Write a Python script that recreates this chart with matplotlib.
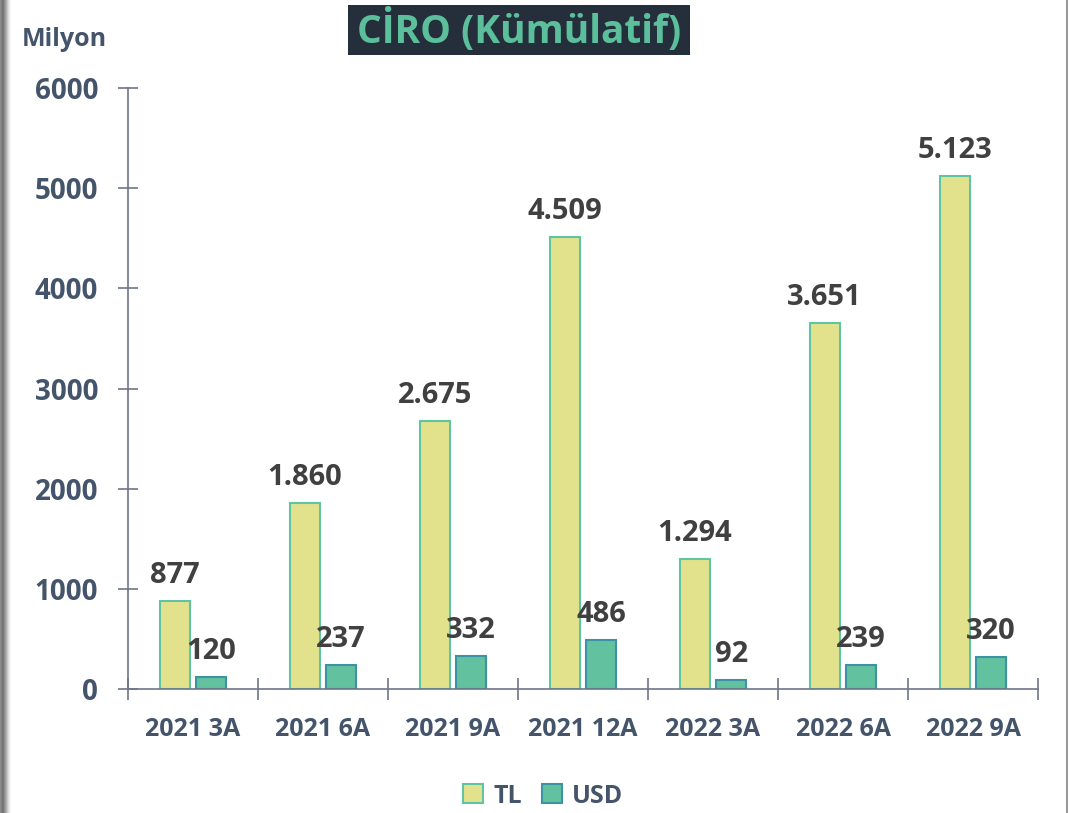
import matplotlib
matplotlib.use("Agg")
import matplotlib.pyplot as plt
import numpy as np
from matplotlib.patches import Rectangle
from matplotlib.lines import Line2D

categories = ["2021 3A", "2021 6A", "2021 9A", "2021 12A", "2022 3A", "2022 6A", "2022 9A"]
tl_values = [877, 1860, 2675, 4509, 1294, 3651, 5123]
usd_values = [120, 237, 332, 486, 92, 239, 320]
series_names = ["TL", "USD"]
y_ticks = [0, 1000, 2000, 3000, 4000, 5000, 6000]
title = "CİRO (Kümülatif)"
unit_label = "Milyon"

def fmt(v):
    return f"{v:,}".replace(",", ".")

plt.rcParams['font.family'] = ['Open Sans', 'DejaVu Sans']

W, H = 1069, 813
fig = plt.figure(figsize=(W / 100, H / 100), dpi=100)
fig.patch.set_facecolor("white")

ax = fig.add_axes([128 / W, 1 - 689 / H, (1038 - 128) / W, (689 - 88) / H])

tl_face, tl_edge = "#E3E28C", "#5FC4A2"
usd_face, usd_edge = "#62C2A0", "#3D93A3"
label_col = "#404040"
axis_text = "#44546A"
spine_col = "#6E7687"

x = np.arange(len(categories)) + 0.5
off, w = 0.14, 0.23
b1 = ax.bar(x - off, tl_values, w, color=tl_face, edgecolor=tl_edge, linewidth=1.5, label=series_names[0])
b2 = ax.bar(x + off, usd_values, w, color=usd_face, edgecolor=usd_edge, linewidth=1.5, label=series_names[1])

for xi, v in zip(x - off, tl_values):
    ax.annotate(fmt(v), (xi, v), xytext=(0, 8), textcoords="offset points",
                ha="center", va="bottom", fontsize=21, fontweight="bold", color=label_col)
for xi, v in zip(x + off, usd_values):
    ax.annotate(fmt(v), (xi, v), xytext=(0, 8), textcoords="offset points",
                ha="center", va="bottom", fontsize=21, fontweight="bold", color=label_col)

ax.set_xlim(0, len(categories))
ax.set_ylim(0, 6000)
ax.set_yticks(y_ticks)
ax.set_yticklabels([str(t) for t in y_ticks], fontsize=20, fontweight="bold", color=axis_text)
ax.set_xticks(np.arange(len(categories) + 1))
ax.set_xticklabels([])
ax.set_xticks(x, minor=True)
ax.set_xticklabels(categories, minor=True, fontsize=18, fontweight="bold", color=axis_text)
ax.tick_params(axis="x", which="minor", length=0, pad=20)
ax.tick_params(axis="x", which="major", direction="inout", length=16, width=1.2, color=spine_col)
ax.tick_params(axis="y", direction="inout", length=15, width=1.2, color=spine_col, pad=14)
for s in ["top", "right"]:
    ax.spines[s].set_visible(False)
for s in ["left", "bottom"]:
    ax.spines[s].set_color(spine_col)
    ax.spines[s].set_linewidth(1.2)

# Unit label
fig.text(22 / W, 1 - 39 / H, unit_label, fontsize=18, fontweight="bold", color=axis_text,
         ha="left", va="center")

# Title box
fig.patches.append(Rectangle((348 / W, 1 - 55 / H), (690 - 348) / W, 50 / H,
                             transform=fig.transFigure, facecolor="#252F3B", edgecolor="none"))
fig.text(519 / W, 1 - 30 / H, title, fontsize=28, fontweight="bold", color="#5CBF9B",
         ha="center", va="center")

# Legend
fig.legend(handles=[b1, b2], labels=series_names, loc="center",
           bbox_to_anchor=(543 / W, 1 - 796 / H), ncol=2, frameon=False,
           handlelength=0.8, handleheight=0.8, handletextpad=0.4, columnspacing=0.8,
           prop={"size": 18, "weight": "bold"}, labelcolor=axis_text)

# Border decorations
bax = fig.add_axes([0, 0, 12 / W, 1])
grad = np.array([[0.55, 0.5, 0.45, 0.48, 0.55, 0.62, 0.7, 0.78, 0.86, 0.92, 0.96, 1.0]])
bax.imshow(grad, cmap="gray", vmin=0, vmax=1, aspect="auto", extent=[0, 1, 0, 1])
bax.axis("off")
fig.lines.append(Line2D([1067 / W, 1067 / W], [0, 1], transform=fig.transFigure,
                        color="#9A9A9A", linewidth=1.5))

fig.savefig("out.png", dpi=100)
